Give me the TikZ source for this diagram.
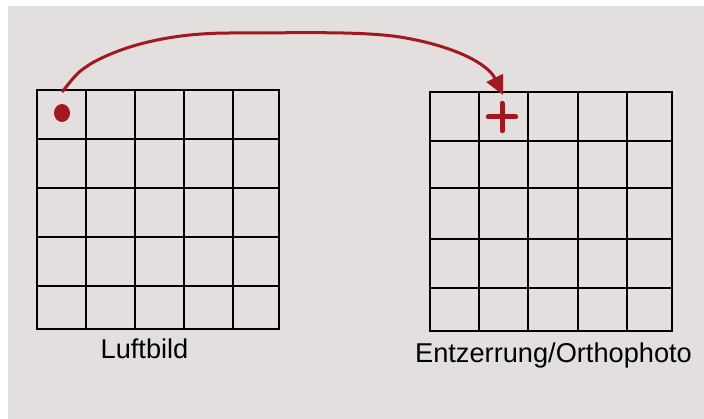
\documentclass[tikz,border=0pt]{standalone}
\usepackage{fontspec}
\setmainfont{Liberation Sans}
\usetikzlibrary{arrows.meta,shapes.geometric,calc}
\definecolor{bggray}{RGB}{226,223,222}
\definecolor{markred}{RGB}{163,24,30}
\tikzset{
  gridline/.style={draw=black,line width=1.8pt},
  gridframe/.style={draw=black,line width=2pt,inner sep=0pt,fill=none},
  labeltext/.style={font=\fontsize{27.2}{31}\selectfont,text=black,inner sep=0pt},
}
\begin{document}
\begin{tikzpicture}[x=1pt,y=-1pt]
\useasboundingbox (0,0) rectangle (704,419);
\fill[white] (0,0) rectangle (704,419);
\fill[bggray] (8,6) rectangle (704,419);
% left grid
\node[gridframe,minimum width=242pt,minimum height=239pt] (gridL) at (158,209.5) {};
\foreach \x in {86,135,184,233} \draw[gridline] (\x,90) -- (\x,329);
\foreach \y in {139,188,237,286} \draw[gridline] (37,\y) -- (279,\y);
% right grid
\node[gridframe,minimum width=242pt,minimum height=239pt] (gridR) at (551,211.5) {};
\foreach \x in {479,528,578,627} \draw[gridline] (\x,92) -- (\x,331);
\foreach \y in {141,188,239,288} \draw[gridline] (430,\y) -- (672,\y);
% marks
\node[ellipse,fill=markred,minimum width=16pt,minimum height=18pt,inner sep=0pt] (dot) at (62,113) {};
\node[minimum size=32pt,inner sep=0pt] (plus) at (502,117) {};
\draw[markred,line width=5pt,line cap=round] ($(plus.west)+(2.5,0)$) -- ($(plus.east)+(-2.5,0)$);
\draw[markred,line width=5pt,line cap=round] ($(plus.north)+(0,2.5)$) -- ($(plus.south)+(0,-2.5)$);
% connector
\coordinate (startpt) at (62,92);
\coordinate (endpt) at (503,95);
\draw[markred,line width=3pt,-{Triangle[length=19pt,width=18pt]}]
  (startpt) .. controls (78,72) .. (92,63)
  .. controls (130,42) and (180,33) .. (230,33)
  .. controls (300,33) and (360,31) .. (400,37)
  .. controls (455,46) and (488,64) .. (endpt);
% labels
\node[labeltext,anchor=base] (lblL) at (144.5,359) {Luftbild};
\node[labeltext,anchor=base] (lblR) at (553.5,362.5) {Entzerrung/Orthophoto};
\end{tikzpicture}
\end{document}
